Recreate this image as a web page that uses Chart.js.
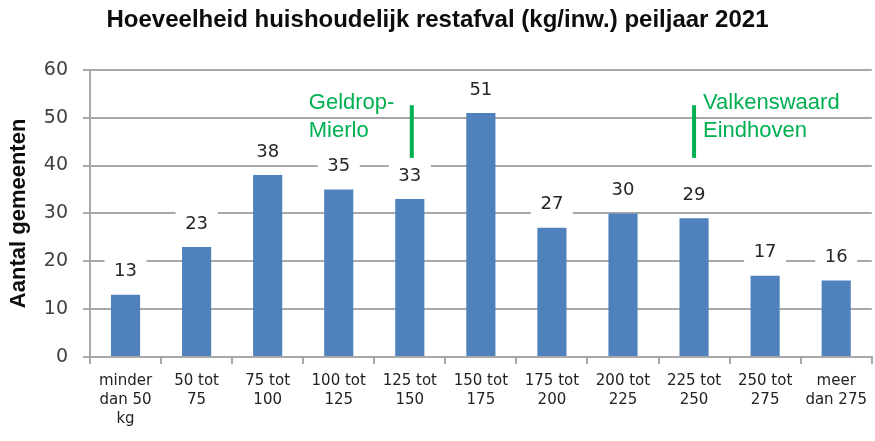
<!DOCTYPE html>
<html>
<head>
<meta charset="utf-8">
<script src="https://cdn.jsdelivr.net/npm/chart.js@4.4.0/dist/chart.umd.min.js"></script>
<style>
  html, body { margin: 0; padding: 0; background: #fff; }
  #wrap { width: 875px; height: 441px; }
</style>
</head>
<body>
<div id="wrap"><canvas id="restafvalChart"></canvas></div>
<script>
// categorieen (kg/inw.)
const labels = [
  ['minder', 'dan 50', 'kg'], ['50 tot', '75'], ['75 tot', '100'], ['100 tot', '125'],
  ['125 tot', '150'], ['150 tot', '175'], ['175 tot', '200'], ['200 tot', '225'],
  ['225 tot', '250'], ['250 tot', '275'], ['meer', 'dan 275']
];
// aantal gemeenten per klasse
const aantalGemeenten = [13, 23, 38, 35, 33, 51, 27, 30, 29, 17, 16];
const yTicks = [0, 10, 20, 30, 40, 50, 60];

// markeringen voor gemeenten (categorie-index + tekst)
const markeringCategorie = [4, 8];
const markeringTekst = [['Geldrop-', 'Mierlo'], ['Valkenswaard', 'Eindhoven']];
const markeringKant = ['links', 'rechts'];
const markeringBereik = [41.6, 52.6];
const tekstWaarden = [53.1, 47.2];

const gridKleur = '#a8a8a8';
const fontFam = '"DejaVu Sans", sans-serif';

const dataLabels = {
  id: 'dataLabels',
  afterDatasetsDraw(chart) {
    const ctx = chart.ctx;
    const y = chart.scales.y;
    ctx.save();
    ctx.font = '18px ' + fontFam;
    ctx.textAlign = 'center';
    ctx.textBaseline = 'middle';
    chart.getDatasetMeta(0).data.forEach(function (bar, i) {
      const top = y.getPixelForValue(aantalGemeenten[i]) - 24;
      ctx.fillStyle = '#ffffff';
      ctx.fillRect(bar.x - 21, top - 13, 42, 26);
      ctx.fillStyle = '#262626';
      ctx.fillText(String(aantalGemeenten[i]), bar.x, top + 1);
    });
    ctx.restore();
  }
};

const markeringen = {
  id: 'markeringen',
  afterDatasetsDraw(chart) {
    const ctx = chart.ctx;
    const x = chart.scales.x;
    const y = chart.scales.y;
    ctx.save();
    ctx.strokeStyle = '#00b050';
    ctx.fillStyle = '#00b050';
    ctx.lineWidth = 4;
    ctx.font = '22px "Liberation Sans", Arial, sans-serif';
    ctx.textBaseline = 'middle';
    markeringCategorie.forEach(function (cat, i) {
      const px = x.getPixelForValue(cat) + (markeringKant[i] === 'links' ? 2 : 0);
      ctx.beginPath();
      ctx.moveTo(px, y.getPixelForValue(markeringBereik[1]));
      ctx.lineTo(px, y.getPixelForValue(markeringBereik[0]));
      ctx.stroke();
      const tx = markeringKant[i] === 'links' ? px - 103 : px + 9;
      ctx.textAlign = 'left';
      markeringTekst[i].forEach(function (t, j) {
        ctx.fillText(t, tx, y.getPixelForValue(tekstWaarden[j]));
      });
    });
    ctx.restore();
  }
};

new Chart(document.getElementById('restafvalChart'), {
  type: 'bar',
  data: {
    labels: labels,
    datasets: [{
      label: 'Aantal gemeenten',
      data: aantalGemeenten,
      backgroundColor: '#4f81bd',
      borderWidth: 0,
      categoryPercentage: 1,
      barPercentage: 0.41
    }]
  },
  options: {
    responsive: true,
    maintainAspectRatio: false,
    animation: false,
    layout: { padding: { left: 0, right: 0, top: 0, bottom: 0 } },
    plugins: {
      legend: { display: false },
      tooltip: { enabled: false },
      title: {
        display: true,
        text: 'Hoeveelheid huishoudelijk restafval (kg/inw.) peiljaar 2021',
        color: '#0d0d0d',
        font: { family: '"Liberation Sans", Arial, sans-serif', size: 24, weight: 'bold', lineHeight: 1.2 },
        padding: { top: 6, bottom: 35 }
      }
    },
    scales: {
      x: {
        afterFit: function (s) { s.height = 84; },
        grid: { offset: true, drawOnChartArea: false, drawTicks: true, tickLength: 7, color: gridKleur, lineWidth: 2 },
        border: { display: true, color: gridKleur, width: 2 },
        ticks: {
          color: '#222',
          padding: 8,
          maxRotation: 0,
          autoSkip: false,
          font: { family: fontFam, size: 15, lineHeight: 1.25 }
        }
      },
      y: {
        min: 0,
        max: 60,
        afterFit: function (s) { s.width = 90; },
        afterBuildTicks: function (s) { s.ticks = yTicks.map(function (v) { return { value: v }; }); },
        grid: { color: gridKleur, lineWidth: 2, drawTicks: true, tickLength: 7 },
        border: { display: true, color: gridKleur, width: 2 },
        ticks: {
          color: '#404040',
          padding: 15,
          font: { family: fontFam, size: 19 }
        },
        title: {
          display: true,
          text: 'Aantal gemeenten',
          color: '#0d0d0d',
          font: { family: '"Liberation Sans", Arial, sans-serif', size: 22, weight: 'bold', lineHeight: 1.2 },
          padding: { top: 6, bottom: 0 }
        }
      }
    }
  },
  plugins: [dataLabels, markeringen]
});
</script>
</body>
</html>
